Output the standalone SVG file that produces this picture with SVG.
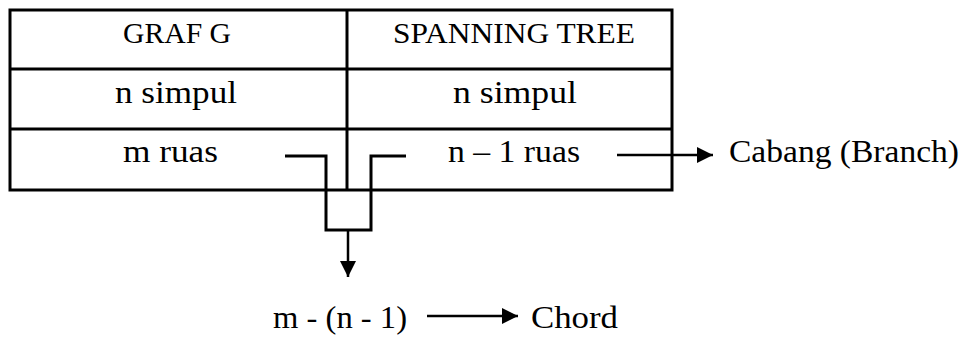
<svg xmlns="http://www.w3.org/2000/svg" width="965" height="337" viewBox="0 0 965 337">
<style>
  .bg { fill: #ffffff; }
  .tbl { fill: none; stroke: #000; stroke-width: 3; }
  .conn { fill: none; stroke: #000; stroke-width: 3; }
  .arr { fill: none; stroke: #000; stroke-width: 2.5; }
  .hd { font-family: "Liberation Serif", "Times New Roman", serif; font-size: 29px; fill: #000; }
  .tx { font-family: "Liberation Serif", "Times New Roman", serif; font-size: 32px; fill: #000; }
</style>
<defs>
  <marker id="ah" markerUnits="userSpaceOnUse" markerWidth="17" markerHeight="16" refX="16" refY="8" orient="auto">
    <path d="M0,0 L16,8 L0,16 z" fill="#000"/>
  </marker>
</defs>
<rect class="bg" x="0" y="0" width="965" height="337"/>
<g id="table">
  <rect class="tbl" x="10" y="10" width="662" height="180"/>
  <line class="tbl" x1="10" y1="69" x2="672" y2="69"/>
  <line class="tbl" x1="10" y1="129" x2="672" y2="129"/>
  <line class="tbl" x1="347" y1="10" x2="347" y2="190"/>
</g>
<g id="node-graf-g"><text class="hd" x="123" y="43" textLength="108" lengthAdjust="spacingAndGlyphs">GRAF G</text></g>
<g id="node-spanning-tree"><text class="hd" x="393" y="43" textLength="242" lengthAdjust="spacingAndGlyphs">SPANNING TREE</text></g>
<g id="node-n-simpul-1"><text class="tx" x="115" y="103" textLength="122" lengthAdjust="spacingAndGlyphs">n simpul</text></g>
<g id="node-n-simpul-2"><text class="tx" x="453" y="103" textLength="124" lengthAdjust="spacingAndGlyphs">n simpul</text></g>
<g id="node-m-ruas"><text class="tx" x="123" y="162" textLength="95" lengthAdjust="spacingAndGlyphs">m ruas</text></g>
<g id="node-n-1-ruas"><text class="tx" x="448" y="162" textLength="132" lengthAdjust="spacingAndGlyphs">n – 1 ruas</text></g>
<g id="node-cabang"><text class="tx" x="729" y="162" textLength="230" lengthAdjust="spacingAndGlyphs">Cabang (Branch)</text></g>
<g id="node-m-n-1"><text class="tx" x="273" y="328" textLength="134" lengthAdjust="spacingAndGlyphs">m - (n - 1)</text></g>
<g id="node-chord"><text class="tx" x="531" y="328" textLength="87" lengthAdjust="spacingAndGlyphs">Chord</text></g>
<g id="connectors">
  <path class="conn" d="M285,156 H326 V230 H371 V156 H406"/>
  <line class="arr" x1="348" y1="230" x2="348" y2="277" marker-end="url(#ah)"/>
  <line class="arr" x1="617" y1="155" x2="713" y2="155" marker-end="url(#ah)"/>
  <line class="arr" x1="427" y1="316" x2="518" y2="316" marker-end="url(#ah)"/>
</g>
</svg>
